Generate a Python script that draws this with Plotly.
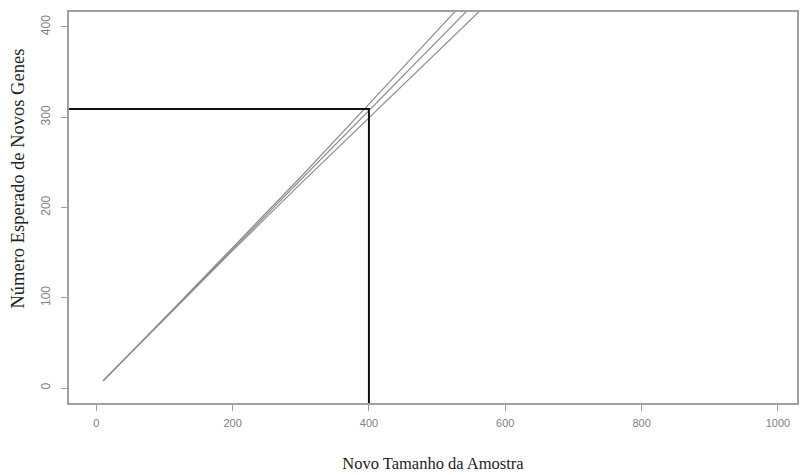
import plotly.graph_objects as go

# Data
x_vals = [10, 100, 200, 300, 400, 500, 600]
curve_upper = [8, 77.3, 155.6, 233.8, 314.5, 395.5, 477.0]
curve_mid = [8, 77.0, 154.0, 230.5, 307.0, 384.0, 461.0]
curve_low = [8, 76.7, 152.3, 226.5, 299.5, 372.5, 445.0]
ref_x = [-45, 400, 400]
ref_y = [309, 309, -30]

x_ticks = [0, 200, 400, 600, 800, 1000]
y_ticks = [0, 100, 200, 300, 400]

fig = go.Figure()
for ys in (curve_upper, curve_mid, curve_low):
    fig.add_trace(go.Scatter(x=x_vals, y=ys, mode="lines",
                             line=dict(color="#8c8c8c", width=1.2),
                             showlegend=False, hoverinfo="skip"))
fig.add_trace(go.Scatter(x=ref_x, y=ref_y, mode="lines",
                         line=dict(color="#111111", width=2),
                         showlegend=False, hoverinfo="skip"))

axis_common = dict(showgrid=False, zeroline=False, showline=True, mirror=True,
                   linecolor="#a0a0a0", linewidth=2, ticks="outside", ticklen=6,
                   tickcolor="#a0a0a0", tickwidth=1)

fig.update_xaxes(range=[-40, 1028], tickvals=x_ticks, ticklabelstandoff=3, **axis_common,
                 tickfont=dict(family="Liberation Sans", size=11, color="#808080"),
                 title=dict(text="Novo Tamanho da Amostra",
                            font=dict(family="Liberation Serif", size=16.5, color="#222222"),
                            standoff=29))
fig.update_yaxes(range=[-16.6, 416.6], tickvals=y_ticks, tickangle=-90, ticklabelstandoff=6,
                 **axis_common,
                 tickfont=dict(family="Liberation Sans", size=12, color="#808080"))

fig.add_annotation(text="Número Esperado de Novos Genes", xref="paper", yref="paper",
                   x=-0.07, y=0.574, xanchor="center", yanchor="middle", textangle=-90,
                   showarrow=False,
                   font=dict(family="Liberation Serif", size=18.5, color="#222222"))

fig.update_layout(width=801, height=475, margin=dict(l=69, r=2, t=12, b=72),
                  paper_bgcolor="white", plot_bgcolor="white")

fig.write_html("out.html")
